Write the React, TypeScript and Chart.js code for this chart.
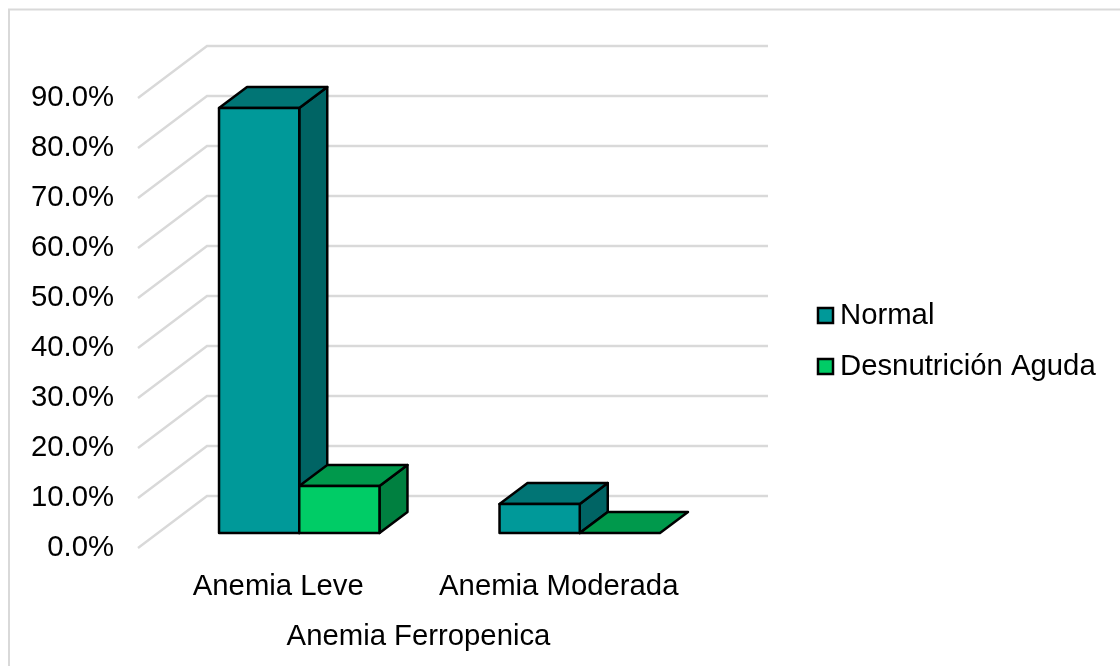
import React, { useEffect, useRef } from "react";
import { Chart, registerables } from "chart.js";

Chart.register(...registerables);

const categories = ["Anemia Leve", "Anemia Moderada"];
const normalValues = [85.0, 5.8];
const desnutricionValues = [9.4, 0];
const axisTitle = "Anemia Ferropenica";

const FONT = "'Liberation Sans', Arial, sans-serif";
const FONT_SIZE = 29.3;
const GRID = "#D9D9D9";

// Oblique projection of the 3D box: how far the floor recedes, where a bar sits on it and how deep it is.
const FLOOR_DX = 69;
const FLOOR_DY = -52;
const BAR_DX = 21;
const BAR_DY = -15;
const DEPTH_DX = 28;
const DEPTH_DY = -21;

const faces = [
  { front: "#009999", top: "#017575", side: "#006464" },
  { front: "#00CC66", top: "#00994C", side: "#008040" },
];

function polygon(ctx: CanvasRenderingContext2D, pts: number[][], fill: string) {
  ctx.beginPath();
  pts.forEach(([x, y], i) => (i ? ctx.lineTo(x, y) : ctx.moveTo(x, y)));
  ctx.closePath();
  ctx.fillStyle = fill;
  ctx.fill();
  ctx.stroke();
}

// Left and back walls of the 3D box, one bent line per y tick.
const wallsPlugin = {
  id: "walls",
  beforeDatasetsDraw(chart: any) {
    const { ctx, chartArea, scales } = chart;
    ctx.save();
    ctx.strokeStyle = GRID;
    ctx.lineWidth = 2.4;
    for (const tick of scales.y.ticks) {
      const y = scales.y.getPixelForValue(tick.value);
      ctx.beginPath();
      ctx.moveTo(chartArea.left, y);
      ctx.lineTo(chartArea.left + FLOOR_DX, y + FLOOR_DY);
      ctx.lineTo(chartArea.right + FLOOR_DX, y + FLOOR_DY);
      ctx.stroke();
    }
    ctx.restore();
  },
};

// Replaces the flat bars with extruded boxes placed by the bar elements' own geometry.
const boxesPlugin = {
  id: "boxes",
  beforeDatasetDraw() {
    return false;
  },
  afterDatasetsDraw(chart: any) {
    const { ctx } = chart;
    ctx.save();
    ctx.strokeStyle = "#000000";
    ctx.lineWidth = 2.5;
    ctx.lineJoin = "round";
    chart.data.datasets.forEach((_: any, d: number) => {
      const shade = faces[d];
      chart.getDatasetMeta(d).data.forEach((bar: any) => {
        const l = bar.x - bar.width / 2 + BAR_DX;
        const r = bar.x + bar.width / 2 + BAR_DX;
        const t = bar.y + BAR_DY;
        const b = bar.base + BAR_DY;
        if (b - t > 0.5) {
          polygon(ctx, [[r, t], [r + DEPTH_DX, t + DEPTH_DY], [r + DEPTH_DX, b + DEPTH_DY], [r, b]], shade.side);
        }
        polygon(ctx, [[l, t], [l + DEPTH_DX, t + DEPTH_DY], [r + DEPTH_DX, t + DEPTH_DY], [r, t]], shade.top);
        if (b - t > 0.5) {
          polygon(ctx, [[l, t], [r, t], [r, b], [l, b]], shade.front);
        }
      });
    });
    ctx.restore();
  },
};

// Outer frame and the right-hand legend.
const framePlugin = {
  id: "frame",
  afterDraw(chart: any) {
    const { ctx, width, height } = chart;
    ctx.save();
    ctx.strokeStyle = GRID;
    ctx.lineWidth = 2;
    ctx.strokeRect(9, 9.5, width + 40, height + 40);

    ctx.font = `${FONT_SIZE}px ${FONT}`;
    ctx.textBaseline = "middle";
    ctx.textAlign = "left";
    chart.data.datasets.forEach((ds: any, i: number) => {
      const y = 316 + i * 51;
      ctx.fillStyle = ds.backgroundColor;
      ctx.strokeStyle = "#000000";
      ctx.lineWidth = 2.5;
      ctx.fillRect(818, y - 8, 15, 15);
      ctx.strokeRect(818, y - 8, 15, 15);
      ctx.fillStyle = "#000000";
      ctx.fillText(ds.label, 840, y);
    });
    ctx.restore();
  },
};

export default function App() {
  const ref = useRef<HTMLCanvasElement>(null);

  useEffect(() => {
    const chart = new Chart(ref.current!, {
      type: "bar",
      data: {
        labels: categories,
        datasets: [
          { label: "Normal", data: normalValues, backgroundColor: faces[0].front },
          { label: "Desnutrición Aguda", data: desnutricionValues, backgroundColor: faces[1].front },
        ],
      },
      plugins: [wallsPlugin, boxesPlugin, framePlugin],
      options: {
        responsive: false,
        animation: false,
        layout: { padding: { left: 0, top: 98, right: 421, bottom: 0 } },
        datasets: { bar: { categoryPercentage: 0.572, barPercentage: 1 } },
        plugins: { legend: { display: false }, title: { display: false }, tooltip: { enabled: false } },
        scales: {
          x: {
            grid: { display: false },
            border: { display: false },
            afterFit(scale: any) {
              scale.height = 118;
            },
            ticks: {
              color: "#000000",
              font: { family: FONT, size: FONT_SIZE },
              padding: 13,
              maxRotation: 0,
            },
            title: {
              display: true,
              text: axisTitle,
              color: "#000000",
              font: { family: FONT, size: FONT_SIZE },
              padding: { top: 0, bottom: 12 },
            },
          },
          y: {
            min: 0,
            max: 90,
            grid: { display: false, drawTicks: false },
            border: { display: false },
            afterFit(scale: any) {
              scale.width = 138;
            },
            ticks: {
              stepSize: 10,
              color: "#000000",
              padding: 24,
              font: { family: FONT, size: FONT_SIZE },
              callback: (v: any) => `${Number(v).toFixed(1)}%`,
            },
          },
        },
      },
    } as any);
    return () => chart.destroy();
  }, []);

  return (
    <div style={{ position: "fixed", left: 0, top: 0, width: 1120, height: 666, background: "#ffffff" }}>
      <canvas ref={ref} width={1120} height={666} style={{ display: "block" }} />
    </div>
  );
}
